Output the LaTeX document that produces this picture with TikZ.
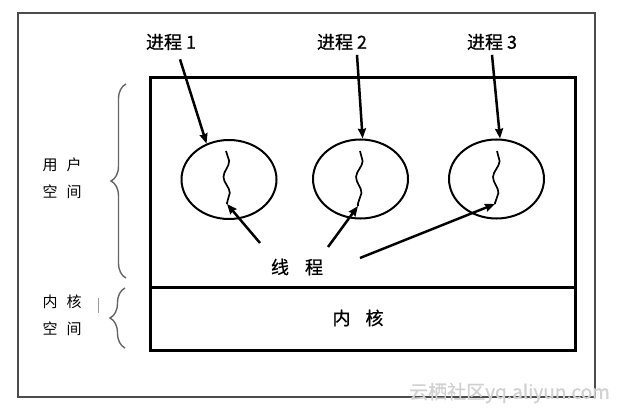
\documentclass[tikz,border=0pt]{standalone}
\usepackage{fontspec}
\setmainfont{Liberation Sans}
\newfontfamily\cjk{Noto Sans CJK SC}
\newfontfamily\cjkm[FakeBold=0.8]{Noto Sans CJK SC}
\usetikzlibrary{arrows.meta,shapes.geometric,decorations.pathreplacing,decorations.pathmorphing}
\tikzset{
  frame/.style={draw=black!70, line width=1.3pt},
  area/.style={draw=black, line width=3pt, minimum width=425pt, inner sep=0pt, outer sep=0pt, anchor=north west},
  proc/.style={draw=black, line width=2pt, ellipse, minimum width=95pt, minimum height=79pt, inner sep=0pt},
  lbl/.style={font=\cjkm\fontsize{18}{20}\selectfont, inner sep=1pt},
  side/.style={font=\cjk\fontsize{15}{27}\selectfont, align=center, inner sep=0pt},
  arr/.style={-{Stealth[length=10pt,width=8pt,inset=1pt]}, line width=2.5pt},
  thread/.style={line width=1.7pt, decorate, decoration={snake, amplitude=3pt, segment length=32pt}},
  brc/.style={draw=black!60, line width=1.4pt, decorate, decoration={brace, amplitude=15pt}},
  wmark/.style={font=\cjkm\fontsize{19}{21}\selectfont, text=black!18, inner sep=0pt, anchor=east},
}
\begin{document}
\begin{tikzpicture}[x=1pt,y=-1pt]
\useasboundingbox (0,0) rectangle (621,414);
\fill[white] (0,0) rectangle (621,414);
% outer frame
\draw[frame] (18,13) rectangle (595,397);
% areas
\node[area, minimum height=209pt] (user) at (150,78) {};
\node[area, minimum height=63pt] (kern) at (150,287) {};
\node[lbl] (kl) at (358,318) {内\hspace{15pt}核};
% processes
\node[proc] (c1) at (229,179.5) {};
\node[proc] (c2) at (360.5,179) {};
\node[proc] (c3) at (496.5,179) {};
\node[lbl] (l1) at (171,42) {进程 1};
\node[lbl] (l2) at (342,42) {进程 2};
\node[lbl] (l3) at (492,42) {进程 3};
\draw[arr] ([xshift=9pt,yshift=-8pt]l1.south) -- (c1.122);
\draw[arr] ([xshift=15pt,yshift=-3.5pt]l2.south) -- (c2.87);
\draw[arr] ([yshift=-3.5pt]l3.south) -- (c3.85);
% threads
\coordinate (w1t) at (226,151); \coordinate (w1b) at (227,204);
\coordinate (w2t) at (360,151); \coordinate (w2b) at (358,206);
\coordinate (w3t) at (497,151); \coordinate (w3b) at (495,204);
\draw[thread] (w1t) -- (w1b);
\draw[thread] (w2t) -- (w2b);
\draw[thread] (w3t) -- (w3b);
\node[lbl] (t) at (297,267) {线\hspace{16pt}程};
\coordinate (ta) at (260,243);
\coordinate (tb) at (328,247);
\coordinate (tc) at (360,258);
\draw[arr] (ta) -- (w1b);
\draw[arr] (tb) -- (w2b);
\draw[arr] (tc) -- (w3b);
% side labels and braces
\node[side] (us) at (62,178.5) {用\hspace{9pt}户\\空\hspace{9pt}间};
\node[side] (ks) at (62,315) {内\hspace{9pt}核\\空\hspace{9pt}间};
\coordinate (b1s) at (126,278); \coordinate (b1e) at (126,84);
\coordinate (b2s) at (125,348); \coordinate (b2e) at (125,288);
\draw[brc] (b1s) -- (b1e);
\draw[brc] (b2s) -- (b2e);
\coordinate (k1) at (98,298); \coordinate (k2) at (98,313);
\draw[black!40, line width=1pt] (k1) -- (k2);
% watermark
\node[wmark] (wm) at (610,393) {云栖社区yq.aliyun.com};
\end{tikzpicture}
\end{document}
